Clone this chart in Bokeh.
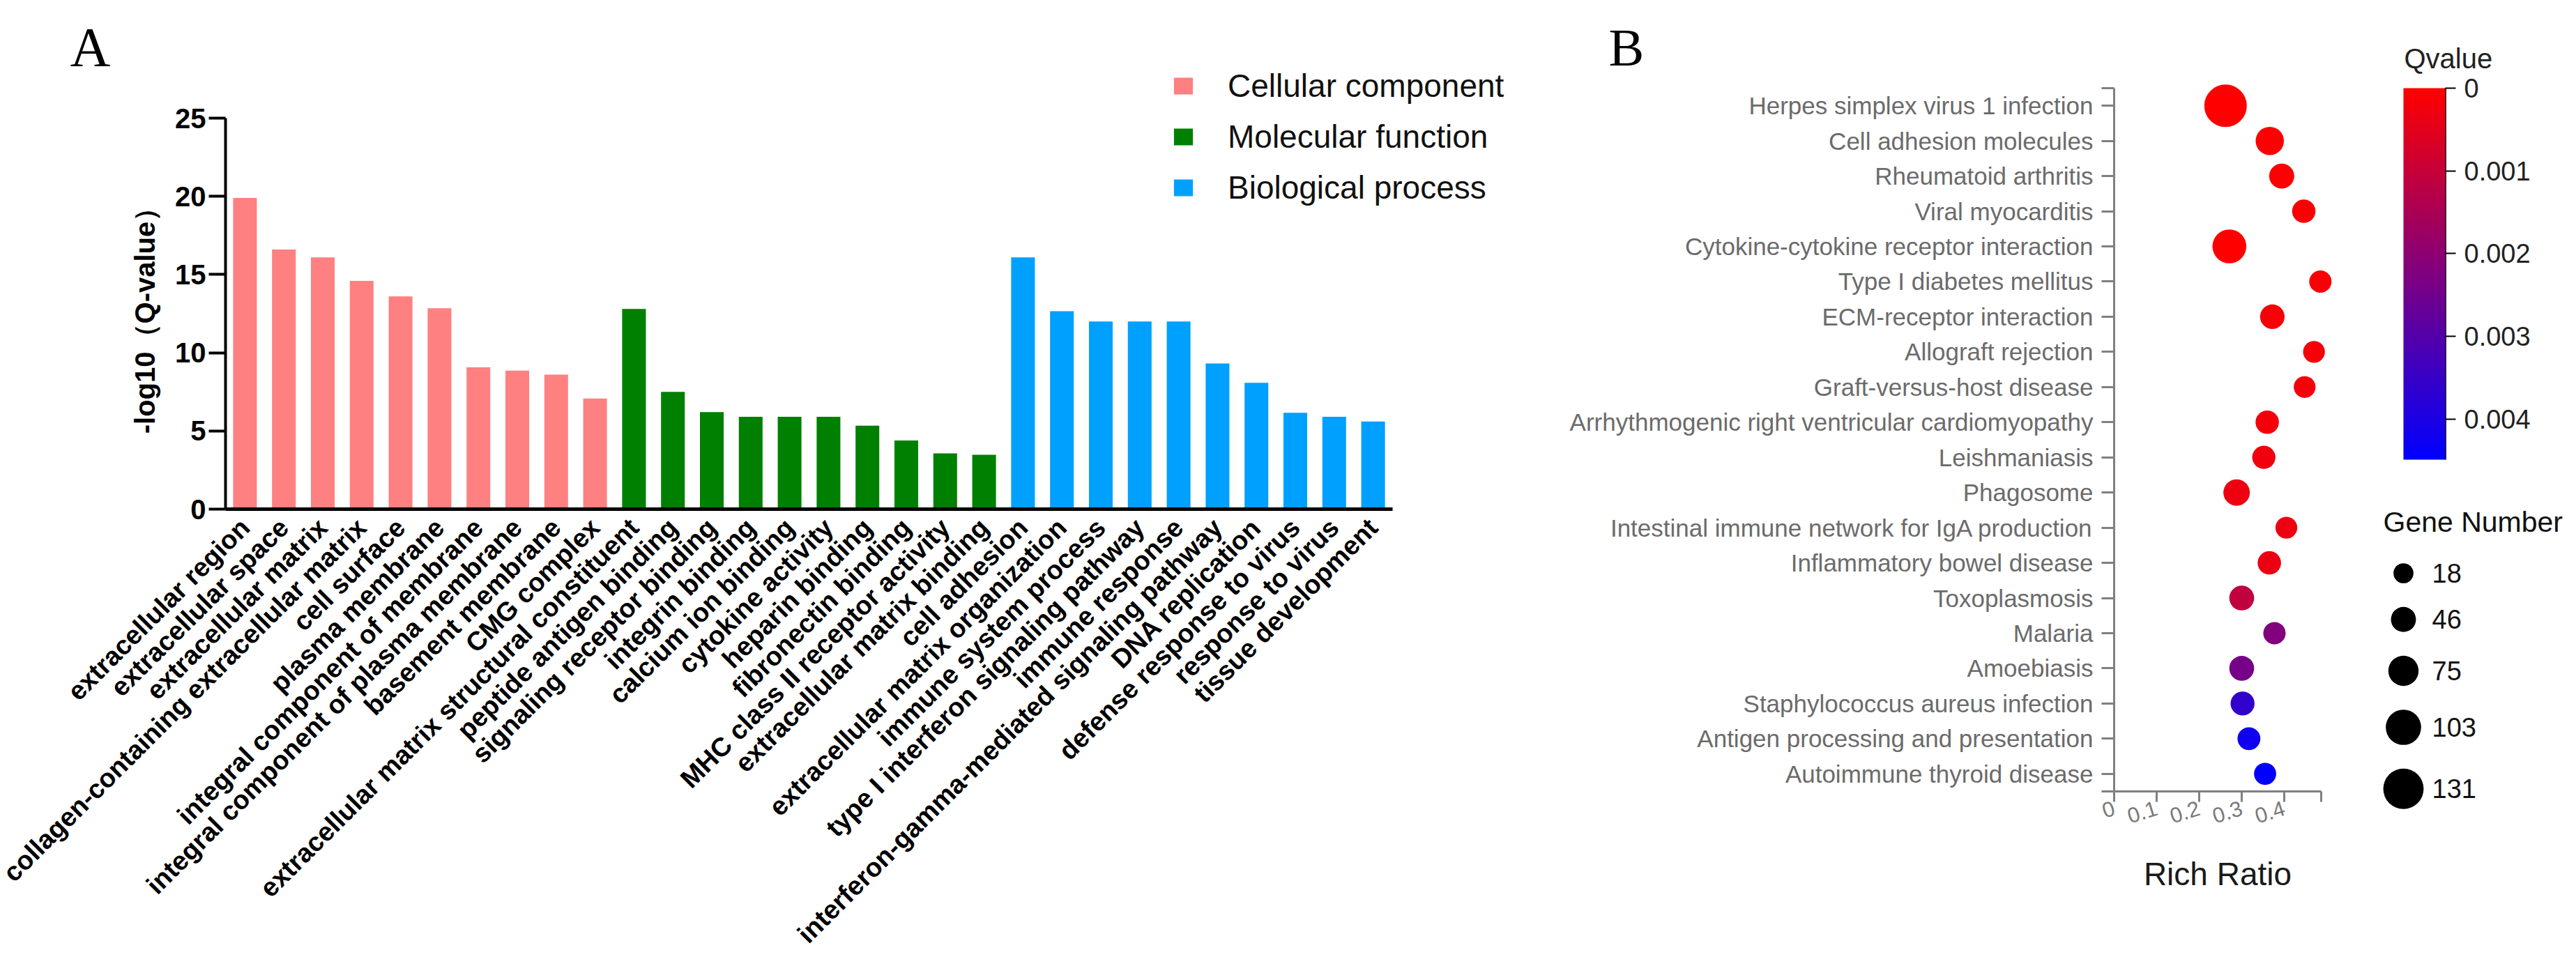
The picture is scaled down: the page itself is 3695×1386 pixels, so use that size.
import math
from bokeh.plotting import figure
from bokeh.models import (ColumnDataSource, Range1d, Legend, LegendItem, ColorBar,
                          LinearColorMapper, FixedTicker, CustomJSTickFormatter, Label)
from bokeh.layouts import row
from bokeh.embed import file_html
from bokeh.resources import INLINE
from bokeh.core.properties import value

# ---------------- Panel A data (GO enrichment) ----------------
cc_terms = ["extracellular region", "extracellular space", "extracellular matrix",
            "collagen-containing extracellular matrix", "cell surface", "plasma membrane",
            "integral component of membrane", "integral component of plasma membrane",
            "basement membrane", "CMG complex"]
cc_values = [19.9, 16.6, 16.1, 14.6, 13.6, 12.85, 9.07, 8.86, 8.6, 7.07]

mf_terms = ["extracellular matrix structural constituent", "peptide antigen binding",
            "signaling receptor binding", "integrin binding", "calcium ion binding",
            "cytokine activity", "heparin binding", "fibronectin binding",
            "MHC class II receptor activity", "extracellular matrix binding"]
mf_values = [12.8, 7.5, 6.2, 5.9, 5.9, 5.9, 5.34, 4.39, 3.57, 3.48]

bp_terms = ["cell adhesion", "extracellular matrix organization", "immune system process",
            "type I interferon signaling pathway", "immune response",
            "interferon-gamma-mediated signaling pathway", "DNA replication",
            "defense response to virus", "response to virus", "tissue development"]
bp_values = [16.1, 12.66, 12.0, 12.0, 12.0, 9.31, 8.08, 6.16, 5.9, 5.6]

group_names = ["Cellular component", "Molecular function", "Biological process"]
group_colors = ["#FF8080", "#008000", "#00A0FF"]
y_ticks_A = [0, 5, 10, 15, 20, 25]
y_max_A = 25

# ---------------- Panel B data (KEGG enrichment) ----------------
kegg_terms = ["Herpes simplex virus 1 infection", "Cell adhesion molecules", "Rheumatoid arthritis",
              "Viral myocarditis", "Cytokine-cytokine receptor interaction", "Type I diabetes mellitus",
              "ECM-receptor interaction", "Allograft rejection", "Graft-versus-host disease",
              "Arrhythmogenic right ventricular cardiomyopathy", "Leishmaniasis", "Phagosome",
              "Intestinal immune network for IgA production", "Inflammatory bowel disease",
              "Toxoplasmosis", "Malaria", "Amoebiasis", "Staphylococcus aureus infection",
              "Antigen processing and presentation", "Autoimmune thyroid disease"]
rich_ratio = [0.262, 0.366, 0.394, 0.446, 0.271, 0.485, 0.372, 0.470, 0.448, 0.360,
              0.352, 0.288, 0.405, 0.365, 0.300, 0.377, 0.300, 0.302, 0.317, 0.355]
gene_number = [143, 64, 46, 37, 95, 31, 43, 28, 28, 37, 36, 54, 28, 37, 45, 31, 45, 40, 34, 30]
q_value = [0.0, 0.00004, 0.00006, 0.0001, 0.00001, 0.00012, 0.00013, 0.00015, 0.00016, 0.0002,
           0.00025, 0.0003, 0.0003, 0.00035, 0.0011, 0.0022, 0.0024, 0.0036, 0.0042, 0.00445]

rich_ticks = [0, 0.1, 0.2, 0.3, 0.4]
rich_max = 0.487
qvalue_ticks = [0, 0.001, 0.002, 0.003, 0.004]
qvalue_max = 0.00449
gene_legend = [18, 46, 75, 103, 131]

SANS = "Liberation Sans"
SERIF = "Liberation Serif"
H = 1370            # common figure height (page px)
TOP = 8             # page margin


def size_of(n):
    return 24 + 0.259 * n


def lin_range(px0, px1, v_at_a, px_a, v_at_b, px_b):
    """data range spanning page pixels px0..px1 given two anchor pixels"""
    k = (v_at_b - v_at_a) / (px_b - px_a)
    return v_at_a + (px0 - px_a) * k, v_at_a + (px1 - px_a) * k


# ======================= Figure A =======================
all_terms = cc_terms + mf_terms + bp_terms
nA = len(all_terms)
WA = 2230
A_left, A_right = 8, 8 + WA
xa0, xa1 = lin_range(A_left, A_right, -0.5, 331, nA - 0.5, 2005)
ya_bot, ya_top = lin_range(TOP + H, TOP, 0, 738, y_max_A, 177)

pA = figure(width=WA, height=H, x_range=Range1d(xa0, xa1), y_range=Range1d(ya_bot, ya_top),
            output_backend="svg", toolbar_location=None, min_border=0, title=None)
pA.xgrid.visible = False
pA.ygrid.visible = False
pA.outline_line_color = None

items = []
offset = 0
for terms, vals, color, name in zip([cc_terms, mf_terms, bp_terms], [cc_values, mf_values, bp_values],
                                    group_colors, group_names):
    src = ColumnDataSource(dict(pos=list(range(offset, offset + len(terms))), term=terms, val=vals))
    offset += len(terms)
    r = pA.vbar(x="pos", top="val", width=0.61, source=src, fill_color=color, line_color=None)
    items.append(LegendItem(label=name, renderers=[r]))

legend = Legend(items=items, location=(1688 - A_left, TOP + H - 304), padding=0, margin=0, spacing=19,
                glyph_width=34, glyph_height=30, label_standoff=47,
                label_text_font=SANS, label_text_font_size="46px", label_text_color="#111111",
                border_line_color=None, background_fill_alpha=0)
pA.add_layout(legend, "center")

xa = pA.xaxis[0]
xa.fixed_location = 0
xa.bounds = (-0.5, nA - 0.5)
xa.ticker = FixedTicker(ticks=list(range(nA)))
xa.formatter = CustomJSTickFormatter(args=dict(names=all_terms), code="""
    const i = Math.round(tick);
    return (i >= 0 && i < names.length) ? names[i] : "";
""")
xa.major_label_orientation = math.pi / 4
xa.major_label_text_font = SANS
xa.major_label_text_font_size = "38px"
xa.major_label_text_font_style = "bold"
xa.major_label_text_color = "black"
xa.axis_line_width = 5
xa.axis_line_color = "black"
xa.major_tick_line_color = None
xa.minor_tick_line_color = None
xa.major_tick_out = 0
xa.major_tick_in = 0
xa.major_label_standoff = 20

ya = pA.yaxis[0]
ya.fixed_location = -0.5
ya.bounds = (0, y_max_A)
ya.ticker = FixedTicker(ticks=y_ticks_A)
ya.axis_label = "-log10（Q-value）"
ya.axis_label_text_font = SANS
ya.axis_label_text_font_size = "40px"
ya.axis_label_text_font_style = "bold"
ya.axis_label_text_color = "black"
ya.axis_label_standoff = 18
ya.major_label_text_font = SANS
ya.major_label_text_font_size = "40px"
ya.major_label_text_font_style = "bold"
ya.major_label_text_color = "black"
ya.major_label_standoff = 4
ya.axis_line_width = 4
ya.major_tick_line_width = 4
ya.major_tick_out = 24
ya.major_tick_in = 0
ya.minor_tick_line_color = None

pA.add_layout(Label(x=108 - A_left, y=TOP + H - 75, x_units="screen", y_units="screen", text="A",
                    text_font=SERIF, text_font_size="80px", text_color="black",
                    text_baseline="alphabetic"), "center")

# ======================= Figure B =======================
palette = []
for i in range(256):
    f = i / 255.0  # 0 -> blue, 1 -> red
    palette.append("#%02x%02x%02x" % (int(round(255 * f)), 0, int(round(255 * (1 - f)))))
mapper = LinearColorMapper(palette=palette, low=qvalue_max, high=0)

nB = len(kegg_terms)
WB = 1122
B_left, B_right = A_right, A_right + WB
xb0, xb1 = lin_range(B_left, B_right, 0, 3040, 0.4, 3284)
yb_bot, yb_top = lin_range(TOP + H, TOP, -0.5, 134, nB - 0.5, 1143)

srcB = ColumnDataSource(dict(pos=list(range(nB)), term=kegg_terms, ratio=rich_ratio, n=gene_number,
                             q=q_value, size=[size_of(n) for n in gene_number]))

pB = figure(width=WB, height=H, x_range=Range1d(xb0, xb1), y_range=Range1d(yb_bot, yb_top),
            output_backend="svg", toolbar_location=None, min_border=0, title=None)
pB.xgrid.visible = False
pB.ygrid.visible = False
pB.outline_line_color = None

pB.scatter(x="ratio", y="pos", size="size", source=srcB,
           fill_color={"field": "q", "transform": mapper}, line_color=None)

GRAY_AX = "#808080"
GRAY_TX = "#6b6b6b"
yb = pB.yaxis[0]
yb.fixed_location = 0
yb.bounds = (-0.5, nB - 0.5)
yb.ticker = FixedTicker(ticks=[-0.5] + list(range(nB)) + [nB - 0.5])
yb.formatter = CustomJSTickFormatter(args=dict(names=kegg_terms), code="""
    if (!Number.isInteger(tick)) { return ""; }
    return (tick >= 0 && tick < names.length) ? names[tick] : "";
""")
yb.major_label_text_font = SANS
yb.major_label_text_font_size = "35px"
yb.major_label_text_color = GRAY_TX
yb.major_label_standoff = 12
yb.axis_line_color = GRAY_AX
yb.axis_line_width = 3
yb.major_tick_line_color = GRAY_AX
yb.major_tick_line_width = 3
yb.major_tick_out = 18
yb.major_tick_in = 0
yb.minor_tick_line_color = None

xb = pB.xaxis[0]
xb.fixed_location = nB - 0.5
xb.bounds = (0, rich_max)
xb.ticker = FixedTicker(ticks=rich_ticks + [rich_max])
xb.formatter = CustomJSTickFormatter(code="""
    if (tick > 0.45) { return ""; }
    return tick == 0 ? "0" : tick.toFixed(1);
""")
xb.major_label_orientation = 0.3
xb.major_label_text_font = SANS
xb.major_label_text_font_size = "31px"
xb.major_label_text_color = "#7a7a7a"
xb.major_label_standoff = 8
xb.axis_line_color = GRAY_AX
xb.axis_line_width = 3
xb.major_tick_line_color = GRAY_AX
xb.major_tick_line_width = 3
xb.major_tick_out = 15
xb.major_tick_in = 0
xb.minor_tick_line_color = None
xb.axis_label = "Rich Ratio"
xb.axis_label_text_font = SANS
xb.axis_label_text_font_size = "46px"
xb.axis_label_text_font_style = "normal"
xb.axis_label_text_color = "#1a1a1a"
xb.axis_label_standoff = 33

pB.add_layout(Label(x=2315 - B_left, y=TOP + H - 75, x_units="screen", y_units="screen", text="B",
                    text_font=SERIF, text_font_size="76px", text_color="black",
                    text_baseline="alphabetic"), "center")

# ======================= Figure C (legends) =======================
WC = 327
C_left = B_right
pC = figure(width=WC, height=H, x_range=Range1d(0, WC), y_range=Range1d(H, 0),
            output_backend="svg", toolbar_location=None, min_border=0, title=None,
            x_axis_location=None, y_axis_location=None)
pC.grid.visible = False
pC.outline_line_color = None

CB_X, CB_TOP, CB_BOT, CB_W = 3455, 134, 667, 60
cb = ColorBar(color_mapper=mapper, ticker=FixedTicker(ticks=qvalue_ticks),
              formatter=CustomJSTickFormatter(code='return tick == 0 ? "0" : tick.toFixed(3);'),
              width=CB_W, height=CB_BOT - CB_TOP, location=(CB_X - C_left, TOP + H - CB_BOT),
              padding=0, margin=0, title=None,
              major_label_text_font=SANS, major_label_text_font_size="38px",
              major_label_text_color="#222222", label_standoff=12,
              major_tick_in=0, major_tick_out=15, major_tick_line_color="black",
              major_tick_line_width=2, minor_tick_line_color=None,
              bar_line_color=None, border_line_color=None, background_fill_alpha=0)
pC.add_layout(cb, "center")
# dark edge line on the tick side of the colour bar
pC.segment(x0=[CB_X + CB_W - C_left], y0=[CB_TOP - TOP], x1=[CB_X + CB_W - C_left], y1=[CB_BOT - TOP],
           line_color="#222222", line_width=3)
pC.text(x=[CB_X + 1 - C_left], y=[91 - TOP], text=["Qvalue"], text_font=value(SANS),
        text_font_size="40px", text_color="#222222", text_baseline="middle", text_align="left")

leg_d = [size_of(n) for n in gene_legend]
leg_y = [830.0 - TOP]
for i in range(1, len(leg_d)):
    leg_y.append(leg_y[-1] + (leg_d[i - 1] + leg_d[i]) / 2 + 34)
leg_src = ColumnDataSource(dict(y=leg_y, d=leg_d, label=[str(n) for n in gene_legend],
                                x=[3455 - C_left] * len(leg_d), tx=[3496 - C_left] * len(leg_d)))
pC.scatter(x="x", y="y", size="d", source=leg_src, fill_color="black", line_color=None)
pC.text(x="tx", y="y", text="label", source=leg_src, text_font=value(SANS),
        text_font_size="38px", text_color="#111111", text_baseline="middle", text_align="left")
pC.text(x=[3426 - C_left], y=[756 - TOP], text=["Gene Number"], text_font=value(SANS),
        text_font_size="41px", text_color="#111111", text_baseline="middle", text_align="left")

layout = row(pA, pB, pC)
open("out.html", "w").write(file_html(layout, INLINE))
